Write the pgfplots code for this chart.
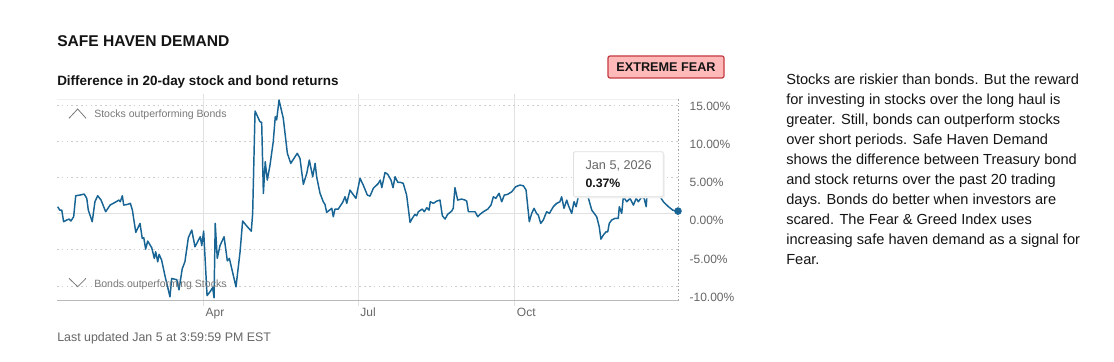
\documentclass[border=0pt]{standalone}
\usepackage{fontspec}
\setmainfont{Liberation Sans}
\usepackage{pgfplots}
\pgfplotsset{compat=1.18}
\definecolor{linec}{RGB}{24,100,148}
\definecolor{tickgray}{RGB}{102,102,102}
\definecolor{annogray}{RGB}{120,120,120}
\definecolor{gridc}{RGB}{225,225,225}
\definecolor{dotc}{RGB}{205,205,205}
\definecolor{badgefill}{RGB}{255,185,185}
\definecolor{badgeline}{RGB}{196,58,66}
\definecolor{textc}{RGB}{20,20,20}
\begin{document}
\begin{tikzpicture}
% ---------- page frame (px coords, origin top-left) ----------
\begin{scope}[x=0.75pt,y=-0.75pt,shift={(0pt,270.75pt)}]
\path[fill=white] (0,0) rectangle (1114,361);
\end{scope}

\begin{axis}[
  at={(42.75pt,45.225pt)}, anchor=south west,
  width=465.75pt, height=151.275pt, scale only axis,
  xmin=0, xmax=365, ymin=-12, ymax=15.84,
  clip=false,
  axis line style={draw=none},
  xtick={86,177,269}, xticklabels={Apr,Jul,Oct},
  xticklabel style={anchor=north west, xshift=0.5pt, yshift=-0.5pt, inner sep=1pt,
     font=\fontsize{9}{10}\selectfont, text=tickgray},
  xmajorgrids, x grid style={gridc, line width=0.75pt},
  tick align=outside, major tick length=4pt,
  xtick style={gridc, line width=0.75pt},
  ytick={-10,-5,5,10,15}, yticklabels={},
  ymajorgrids, y grid style={dotc, line width=0.75pt, dash pattern=on 1.2pt off 2.4pt},
  ytick style={draw=none},
  yticklabel pos=right,
  extra y ticks={14.78,9.58,4.29,-0.97,-6.26,-11.52},
  extra y tick labels={15.00\%,10.00\%,5.00\%,0.00\%,-5.00\%,-10.00\%},
  extra y tick style={grid=none, ytick style={draw=none},
     yticklabel style={anchor=west, inner sep=0pt, xshift=4.5pt,
       font=\fontsize{9}{10}\selectfont, text=tickgray}},
]
\draw[gridc, line width=0.75pt] (axis cs:0,0) -- (axis cs:365,0);
\draw[gray!12, line width=0.75pt] (axis cs:0,15.84) -- (axis cs:365,15.84);
\draw[gray!55, line width=0.75pt] (axis cs:0,-12) -- (axis cs:365,-12);
\draw[gray!70, line width=0.6pt, dash pattern=on 1pt off 1.5pt] (axis cs:365,-12) -- (axis cs:365,15.84);
\addplot[linec, line width=1.1pt, line join=round] coordinates {
(0.4,0.97) (1.6,0.51) (2.8,0.5) (3.9,-1.1) (5.7,-0.87) (7.1,-0.73) (8.2,-1.0) (9.8,-0.4)
(11.0,2.49) (13.5,2.58) (16.0,2.72) (17.5,2.12) (18.4,0.51) (20.7,-1.1) (22.3,1.66) (23.9,2.49)
(25.9,1.89) (28.6,0.28) (31.2,1.2) (34.1,1.57) (36.4,1.89) (37.2,1.66) (38.4,2.49) (39.2,1.2)
(41.6,1.3) (43.1,1.44) (44.3,0.51) (46.3,-2.57) (48.8,-1.33) (50.1,-3.4) (51.0,-3.3) (52.1,-4.88)
(53.3,-3.77) (55.7,-4.7) (57.2,-6.16) (58.0,-5.25) (59.2,-6.63) (60.0,-5.6) (61.5,-6.4) (63.5,-8.6)
(66.4,-11.46) (67.4,-8.93) (70.4,-9.1) (71.7,-10.5) (73.6,-7.6) (75.2,-6.6) (77.2,-3.3) (79.2,-2.25)
(81.1,-4.56) (84.2,-3.17) (85.1,-4.4) (86.2,-2.39) (88.2,-11.3) (89.9,-10.77) (91.5,-10.2) (92.3,-11.6)
(93.0,-1.33) (94.2,-6.16) (95.8,-4.4) (98.2,-3.17) (100.1,-6.5) (101.3,-6.16) (105.2,-10.08) (107.6,-5.25)
(109.1,-1.0) (111.9,-1.8) (114.2,-2.4) (115.0,0.05) (116.4,14.18) (119.3,12.7) (120.3,12.6) (121.3,2.8)
(122.4,7.18) (123.6,4.65) (125.2,6.72) (127.1,9.94) (128.3,13.4) (129.1,12.94) (130.5,15.7) (133.0,13.17)
(135.4,8.34) (137.4,6.96) (141.2,8.34) (142.8,7.65) (144.8,4.06) (146.8,5.58) (148.3,7.42) (150.3,5.11)
(151.7,6.96) (152.6,5.11) (154.6,2.82) (156.5,1.66) (157.5,1.3) (158.5,0.19) (161.5,0.75) (162.4,-0.41)
(163.4,0.65) (165.3,0.65) (167.9,1.57) (169.3,2.35) (170.3,1.44) (172.2,3.27) (175.7,2.12) (178.1,4.89)
(180.0,3.96) (182.4,2.58) (184.0,2.44) (185.9,3.5) (188.9,4.2) (190.0,4.65) (190.9,3.6) (192.8,5.7)
(194.4,5.44) (196.3,4.65) (197.5,3.6) (198.7,5.11) (200.3,4.34) (201.8,4.34) (203.5,4.2) (205.5,2.58)
(207.5,-1.19) (208.8,-0.64) (210.4,-0.08) (211.4,-0.28) (212.4,0.28) (214.7,0.65) (215.9,0.28) (217.3,0.83)
(218.7,0.51) (219.4,1.66) (221.2,1.44) (223.2,1.75) (225.1,1.89) (226.5,-0.28) (228.1,-0.73) (229.6,-0.08)
(232.0,0.37) (232.9,0.75) (233.9,3.6) (235.5,1.89) (237.9,2.03) (239.8,1.89) (240.8,1.75) (241.8,0.28)
(243.8,0.28) (245.7,0.28) (247.3,-0.41) (248.6,-0.08) (250.6,0.28) (253.2,0.65) (255.1,1.2) (256.5,2.35)
(257.9,2.12) (259.8,2.82) (261.4,1.66) (262.9,2.58) (264.9,2.68) (267.3,3.04) (269.6,3.73) (272.1,3.96)
(274.1,3.87) (275.7,3.27) (277.6,-1.1) (279.0,0.05) (280.4,0.75) (282.0,0.0) (282.9,-0.18) (284.3,-1.33)
(285.8,-0.87) (287.8,0.28) (289.4,0.05) (291.7,0.97) (293.7,1.44) (295.6,1.66) (296.6,2.35) (298.0,0.75)
(299.6,1.89) (300.5,1.2) (302.5,0.05) (303.9,1.66) (305.1,0.97) (306.4,2.35) (308.6,3.3) (310.3,3.0)
(312.1,2.35) (314.3,0.51) (317.2,-0.41) (318.7,-1.8) (319.7,-3.5) (321.1,-2.94) (322.7,-2.49) (323.7,-2.49)
(324.6,-1.33) (326.0,-0.87) (328.0,-0.64) (329.9,-0.64) (330.5,0.97) (331.9,0.05) (332.9,2.35) (334.9,1.66)
(336.8,2.12) (338.8,1.2) (340.4,2.12) (341.7,1.66) (343.7,2.35) (345.1,2.12) (346.3,0.97) (346.7,2.35)
(348.6,3.4) (351.5,3.2) (354.5,2.35) (356.4,1.66) (359.4,0.97) (361.9,0.51) (364.2,0.37) (365.0,0.37)
};
\addplot[only marks, mark=*, mark size=2.6pt, linec] coordinates {(365,0.37)};
\end{axis}

% ---------- texts and decorations (px coords, origin top-left) ----------
\begin{scope}[x=0.75pt,y=-0.75pt,shift={(0pt,270.75pt)}]
% title
\node[anchor=base west, inner sep=0pt, text=textc] at (57,47)
  {\fontsize{11.7}{13}\selectfont\bfseries SAFE HAVEN DEMAND};
% subtitle
\node[anchor=base west, inner sep=0pt, text=textc] at (57,85.5)
  {\fontsize{10.1}{12}\selectfont\bfseries Difference in 20-day stock and bond returns};
% badge
\draw[badgeline, fill=badgefill, line width=0.9pt, rounded corners=1.5pt] (608,56) rectangle (724,78);
\node[anchor=center, inner sep=0pt, text=textc] at (666,67)
  {\fontsize{9.5}{11}\selectfont\bfseries EXTREME FEAR};
% in-plot annotations
\draw[annogray, line width=0.6pt] (69,118.3) -- (77.7,109) -- (86,118.3);
\node[anchor=west, inner sep=0pt, text=annogray] at (94,115)
  {\fontsize{7.9}{9}\selectfont Stocks outperforming Bonds};
\draw[annogray, line width=0.6pt] (69,278.3) -- (77.7,286.7) -- (86,278.3);
\node[anchor=west, inner sep=0pt, text=annogray] at (94,285)
  {\fontsize{7.9}{9}\selectfont Bonds outperforming Stocks};
% tooltip
\fill[black!5, rounded corners=1pt] (575,153.5) rectangle (664.8,198.3);
\draw[gray!25, fill=white, line width=0.6pt, rounded corners=1pt] (573.5,151.7) rectangle (663.3,196.7);
\node[anchor=base west, inner sep=0pt, text=tickgray] at (585.3,169.8)
  {\fontsize{9.5}{11}\selectfont Jan 5, 2026};
\node[anchor=base west, inner sep=0pt, text=textc] at (585.3,187.3)
  {\fontsize{9.2}{11}\selectfont\bfseries 0.37\%};
% last updated
\node[anchor=base west, inner sep=0pt, text=tickgray] at (57,341.5)
  {\fontsize{9.3}{11}\selectfont Last updated Jan 5 at 3:59:59 PM EST};
% description
\node[anchor=north west, inner sep=0pt, text=textc, align=left,
      font=\fontsize{10.95}{15}\selectfont] at (786,73.2)
  {Stocks are riskier than bonds. But the reward\\
   for investing in stocks over the long haul is\\
   greater. Still, bonds can outperform stocks\\
   over short periods. Safe Haven Demand\\
   shows the difference between Treasury bond\\
   and stock returns over the past 20 trading\\
   days. Bonds do better when investors are\\
   scared. The Fear \& Greed Index uses\\
   increasing safe haven demand as a signal for\\
   Fear.};
\end{scope}
\end{tikzpicture}
\end{document}
